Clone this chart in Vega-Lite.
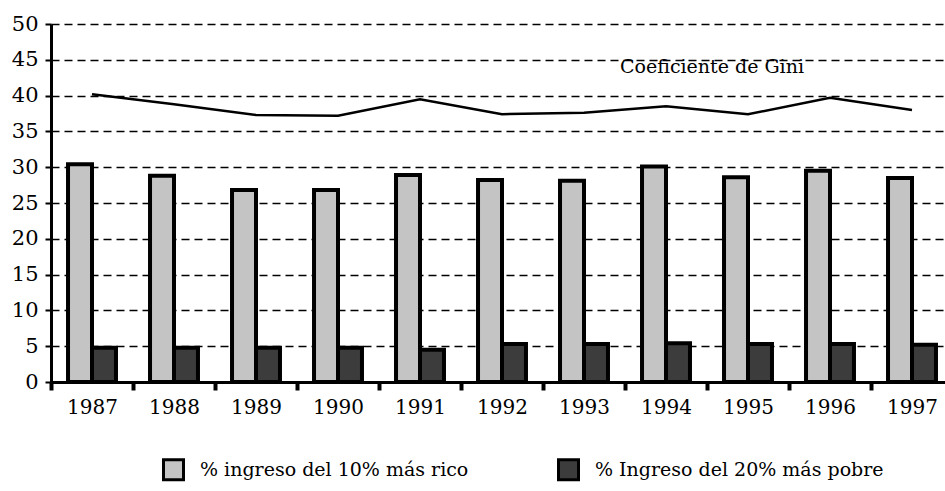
{
  "$schema": "https://vega.github.io/schema/vega-lite/v6.json",
  "autosize": {"type": "none"},
  "padding": {"left": 51, "top": 24, "right": 0, "bottom": 109},
  "width": 894,
  "height": 358,
  "background": "white",
  "config": {"view": {"stroke": null}, "font": "DejaVu Serif"},
  "datasets": {
    "ingresos": [
      {"year": "1987", "serie": "% ingreso del 10% más rico", "valor": 30.4},
      {"year": "1988", "serie": "% ingreso del 10% más rico", "valor": 28.8},
      {"year": "1989", "serie": "% ingreso del 10% más rico", "valor": 26.8},
      {"year": "1990", "serie": "% ingreso del 10% más rico", "valor": 26.8},
      {"year": "1991", "serie": "% ingreso del 10% más rico", "valor": 28.9},
      {"year": "1992", "serie": "% ingreso del 10% más rico", "valor": 28.2},
      {"year": "1993", "serie": "% ingreso del 10% más rico", "valor": 28.1},
      {"year": "1994", "serie": "% ingreso del 10% más rico", "valor": 30.1},
      {"year": "1995", "serie": "% ingreso del 10% más rico", "valor": 28.6},
      {"year": "1996", "serie": "% ingreso del 10% más rico", "valor": 29.5},
      {"year": "1997", "serie": "% ingreso del 10% más rico", "valor": 28.5},
      {"year": "1987", "serie": "% Ingreso del 20% más pobre", "valor": 4.8},
      {"year": "1988", "serie": "% Ingreso del 20% más pobre", "valor": 4.8},
      {"year": "1989", "serie": "% Ingreso del 20% más pobre", "valor": 4.8},
      {"year": "1990", "serie": "% Ingreso del 20% más pobre", "valor": 4.8},
      {"year": "1991", "serie": "% Ingreso del 20% más pobre", "valor": 4.5},
      {"year": "1992", "serie": "% Ingreso del 20% más pobre", "valor": 5.3},
      {"year": "1993", "serie": "% Ingreso del 20% más pobre", "valor": 5.3},
      {"year": "1994", "serie": "% Ingreso del 20% más pobre", "valor": 5.4},
      {"year": "1995", "serie": "% Ingreso del 20% más pobre", "valor": 5.3},
      {"year": "1996", "serie": "% Ingreso del 20% más pobre", "valor": 5.3},
      {"year": "1997", "serie": "% Ingreso del 20% más pobre", "valor": 5.2}
    ],
    "gini": [
      {"year": "1987", "valor": 40.2},
      {"year": "1988", "valor": 38.8},
      {"year": "1989", "valor": 37.3},
      {"year": "1990", "valor": 37.2},
      {"year": "1991", "valor": 39.5},
      {"year": "1992", "valor": 37.4},
      {"year": "1993", "valor": 37.6},
      {"year": "1994", "valor": 38.5},
      {"year": "1995", "valor": 37.4},
      {"year": "1996", "valor": 39.7},
      {"year": "1997", "valor": 38.0}
    ],
    "etiqueta": [
      {"year": "1994", "valor": 43.2, "label": "Coeficiente de Gini"}
    ]
  },
  "encoding": {
    "x": {
      "field": "year",
      "type": "ordinal",
      "scale": {"range": [0, 902], "paddingInner": 0, "paddingOuter": 0},
      "axis": {
        "title": null,
        "labelAngle": 0,
        "tickBand": "extent",
        "tickSize": 8,
        "tickWidth": 4,
        "tickColor": "black",
        "domainColor": "black",
        "domainWidth": 3,
        "labelFontSize": 20,
        "labelColor": "black",
        "labelPadding": 7,
        "grid": false
      }
    },
    "y": {
      "field": "valor",
      "type": "quantitative",
      "scale": {"domain": [0, 50], "nice": false},
      "axis": {
        "title": null,
        "values": [0, 5, 10, 15, 20, 25, 30, 35, 40, 45, 50],
        "labelOverlap": false,
        "grid": true,
        "gridDash": [8, 5],
        "gridColor": "black",
        "gridWidth": 1.5,
        "gridOpacity": 1,
        "domainColor": "black",
        "domainWidth": 3,
        "tickColor": "black",
        "tickSize": 6,
        "tickWidth": 2,
        "labelFontSize": 21,
        "labelColor": "black",
        "labelPadding": 7
      }
    }
  },
  "layer": [
    {
      "data": {"name": "ingresos"},
      "mark": {"type": "bar", "stroke": "black", "strokeWidth": 4},
      "encoding": {
        "xOffset": {
          "field": "serie",
          "type": "nominal",
          "sort": ["% ingreso del 10% más rico", "% Ingreso del 20% más pobre"],
          "scale": {"paddingInner": 0, "paddingOuter": 0.71}
        },
        "color": {
          "field": "serie",
          "type": "nominal",
          "sort": ["% ingreso del 10% más rico", "% Ingreso del 20% más pobre"],
          "scale": {
            "domain": ["% ingreso del 10% más rico", "% Ingreso del 20% más pobre"],
            "range": ["#c4c4c4", "#3c3c3c"]
          },
          "legend": {
            "title": null,
            "orient": "none",
            "legendX": 111,
            "legendY": 434,
            "direction": "horizontal",
            "symbolType": "square",
            "symbolSize": 400,
            "symbolStrokeColor": "black",
            "symbolStrokeWidth": 3,
            "labelFontSize": 19,
            "labelColor": "black",
            "labelOffset": 15,
            "columnPadding": 83,
            "labelLimit": 400
          }
        }
      }
    },
    {
      "data": {"name": "gini"},
      "mark": {"type": "line", "color": "black", "strokeWidth": 2.5}
    },
    {
      "data": {"name": "etiqueta"},
      "mark": {"type": "text", "fontSize": 19, "align": "center", "baseline": "alphabetic", "dx": 46, "color": "black"},
      "encoding": {
        "text": {"field": "label"}
      }
    }
  ]
}
